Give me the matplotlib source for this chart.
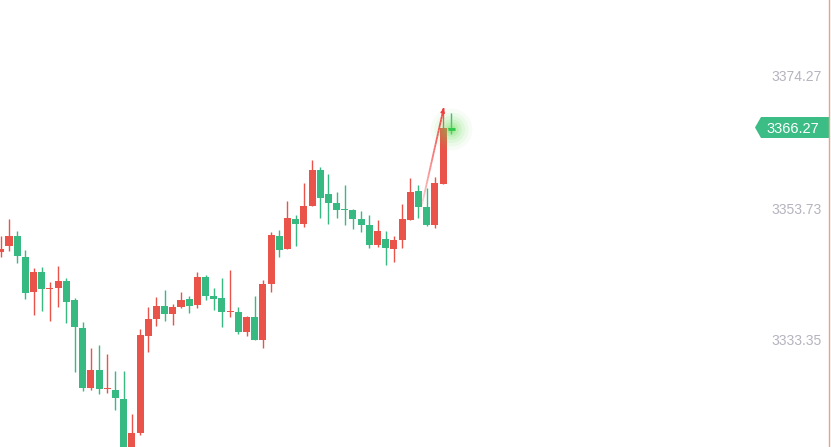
import matplotlib
matplotlib.use("Agg")
import matplotlib.pyplot as plt
import numpy as np
from matplotlib.collections import LineCollection
from matplotlib.patches import Polygon

# K线数据 (开/高/低/收)
opens = [3347.15, 3348.12, 3349.63, 3346.37, 3340.99, 3344.05, 3341.46, 3341.56, 3342.65, 3339.70,
         3335.36, 3325.96, 3328.86, 3325.86, 3325.75, 3324.30, 3316.60, 3319.09, 3334.17, 3336.81,
         3338.77, 3337.58, 3338.67, 3339.86, 3338.98, 3343.27, 3340.33, 3340.01, 3337.75, 3337.84,
         3334.64, 3337.07, 3333.55, 3342.23, 3349.63, 3347.66, 3352.21, 3351.53, 3354.32, 3359.86,
         3356.14, 3354.74, 3353.81, 3353.66, 3352.20, 3351.33, 3348.28, 3349.16, 3347.66, 3349.05,
         3352.15, 3356.60, 3354.12, 3351.38, 3357.73, 3366.45]
closes = [3347.56, 3349.63, 3346.57, 3340.84, 3344.05, 3341.46, 3341.56, 3342.65, 3339.44, 3335.57,
          3325.96, 3328.86, 3325.80, 3325.96, 3324.40, 3316.50, 3319.09, 3334.28, 3336.76, 3338.77,
          3337.58, 3338.62, 3339.71, 3338.82, 3343.27, 3340.37, 3339.91, 3337.89, 3337.80, 3334.64,
          3337.07, 3333.55, 3342.19, 3349.78, 3347.50, 3352.41, 3351.53, 3354.27, 3359.86, 3355.56,
          3354.79, 3353.70, 3353.72, 3352.30, 3351.38, 3348.28, 3350.40, 3347.76, 3349.00, 3352.26,
          3356.45, 3354.17, 3351.33, 3357.84, 3366.45, 3366.27]
highs = [3349.63, 3352.26, 3350.40, 3347.46, 3344.67, 3344.82, 3342.50, 3344.98, 3343.12, 3340.01,
         3336.30, 3332.27, 3332.73, 3331.34, 3328.70, 3328.70, 3322.03, 3335.21, 3338.62, 3340.17,
         3341.26, 3339.09, 3340.95, 3340.33, 3344.05, 3343.58, 3341.57, 3343.11, 3344.36, 3338.62,
         3337.27, 3340.33, 3342.81, 3350.25, 3350.56, 3355.05, 3352.88, 3357.84, 3361.41, 3360.32,
         3359.24, 3356.45, 3357.53, 3353.81, 3353.50, 3352.88, 3352.15, 3350.40, 3349.63, 3354.58,
         3358.62, 3357.53, 3357.07, 3358.77, 3369.47, 3368.69]
lows = [3346.37, 3347.35, 3345.49, 3339.91, 3337.42, 3338.04, 3336.50, 3338.67, 3336.19, 3328.44,
        3325.49, 3325.75, 3325.03, 3325.18, 3322.55, 3316.10, 3315.90, 3318.67, 3331.54, 3335.72,
        3336.50, 3335.88, 3338.51, 3337.73, 3338.51, 3339.75, 3338.20, 3335.57, 3337.12, 3334.33,
        3334.02, 3333.40, 3332.16, 3341.00, 3346.42, 3347.60, 3348.12, 3351.07, 3354.30, 3352.46,
        3351.53, 3352.46, 3351.38, 3350.76, 3350.29, 3347.81, 3347.97, 3345.13, 3345.64, 3347.81,
        3352.10, 3352.46, 3351.18, 3350.91, 3357.70, 3365.43]

# 右侧刻度
tick_values = [3374.27, 3353.73, 3333.35]
tick_labels = ['3374.27', '3353.73', '3333.35']
last_price = 3366.27
last_label = '3366.27'

# 趋势箭头 (起点/终点)
arrow_x = [50.98, 54.08]
arrow_y = [3352.0, 3369.5]

RED = '#ea5349'
GREEN = '#36ba82'

fig = plt.figure(figsize=(8.31, 4.47), dpi=100)
ax = fig.add_axes([0, 0, 1, 1])
ax.set_xlim(-0.1, 101.37)
ax.set_ylim(3316.85, 3386.3)
ax.axis('off')

x = np.arange(len(opens))
o = np.array(opens)
c = np.array(closes)
colors = [RED if cc >= oo else GREEN for oo, cc in zip(o, c)]

# 影线
ax.vlines(x, lows, highs, colors=colors, linewidth=1.0, zorder=2)
# 实体
bottoms = np.minimum(o, c)
heights = np.maximum(np.abs(c - o), 0.16)
ax.bar(x, heights, bottom=bottoms, width=0.86, color=colors, linewidth=0, zorder=3)

# 渐变箭头线
n = 40
xs = np.linspace(arrow_x[0], arrow_x[1], n + 1)
ys = np.linspace(arrow_y[0], arrow_y[1], n + 1)
segs = [[(xs[i], ys[i]), (xs[i + 1], ys[i + 1])] for i in range(n)]
alphas = np.clip(np.linspace(-0.1, 1.0, n), 0, 1) ** 0.6
seg_colors = [(0.95, 0.25, 0.25, a) for a in alphas]
ax.add_collection(LineCollection(segs, colors=seg_colors, linewidths=1.3, zorder=5))
ax.annotate('', xy=(arrow_x[1], arrow_y[1]),
            xytext=(arrow_x[1] - 0.12, arrow_y[1] - 0.7),
            arrowprops=dict(arrowstyle='-|>', color='#f03c3c', lw=1.0, mutation_scale=6),
            zorder=6)

# 最新价光晕
gx = x[-1]
for s, a in [(900, 0.05), (600, 0.07), (380, 0.1), (220, 0.13), (110, 0.17), (40, 0.25)]:
    ax.scatter([gx], [last_price], s=s, color='#66de55', alpha=a, linewidths=0, zorder=4)
ax.hlines(last_price, gx - 0.45, gx + 0.45, colors='#2fc94a', linewidth=2.0, zorder=5)

# 右侧刻度文字
ytr = ax.get_yaxis_transform()
for v, lab in zip(tick_values, tick_labels):
    ax.text(821.5 / 831, v, lab, transform=ytr, ha='right', va='center',
            fontsize=10, color='#b3b4be', family='Liberation Sans')

# 最新价标签
yc = 1 - 127.5 / 447
yt = 1 - 117.0 / 447
yb = 1 - 138.0 / 447
poly = Polygon([(755 / 831, yc), (761 / 831, yt), (829 / 831, yt), (829 / 831, yb), (761 / 831, yb)],
               closed=True, transform=ax.transAxes, facecolor='#3bbd85', edgecolor='none', zorder=7)
ax.add_patch(poly)
ax.text(819.5 / 831, last_price, last_label, transform=ytr, ha='right', va='center',
        fontsize=10.5, color='white', family='Liberation Sans', zorder=8)

# 右边缘线
ax.axvline(101.37 - 0.2, color='#eda47e', linewidth=1.0, zorder=8)

plt.savefig('out.png', dpi=100)
